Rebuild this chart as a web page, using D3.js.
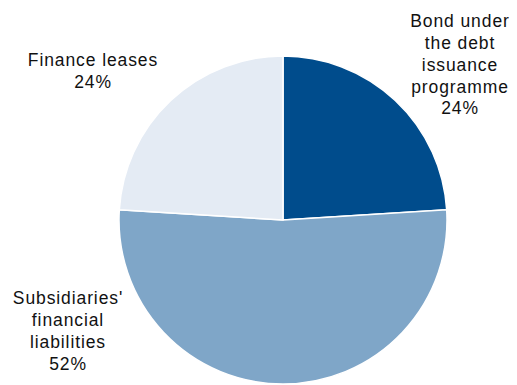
<!DOCTYPE html>
<html>
<head>
<meta charset="utf-8">
<script src="https://cdn.jsdelivr.net/npm/d3@7"></script>
<style>
  body { margin: 0; background: #fff; }
  svg text { font-family: "Liberation Sans", Arial, sans-serif; font-size: 17.5px; letter-spacing: 0.9px; fill: #111; }
</style>
</head>
<body>
<svg id="chart" width="517" height="385"></svg>
<script>
// data
var categories = ["Bond under the debt issuance programme", "Subsidiaries' financial liabilities", "Finance leases"];
var shares = [24, 52, 24];
var labelLines = [
  ["Bond under", "the debt", "issuance", "programme"],
  ["Subsidiaries'", "financial", "liabilities"],
  ["Finance leases"]
];
var colors = ["#004c8c", "#7fa6c8", "#e4ebf4"];

// layout (label anchor = top line centre)
var labelAnchor = [[460, 21], [68, 298], [93, 60]];
var lineH = 21.8;

var svg = d3.select("#chart");
var cx = 283, cy = 220, r = 164;

var pie = d3.pie().sort(null).value(function (d) { return d; });
var arc = d3.arc().innerRadius(0).outerRadius(r);

var g = svg.append("g").attr("transform", "translate(" + cx + "," + cy + ")");

g.selectAll("path")
  .data(pie(shares))
  .enter()
  .append("path")
  .attr("d", arc)
  .attr("fill", function (d, i) { return colors[i]; })
  .attr("stroke", "#fff")
  .attr("stroke-width", 1.5);

var labels = svg.selectAll("text.lbl")
  .data(categories)
  .enter()
  .append("text")
  .attr("class", "lbl")
  .attr("text-anchor", "middle")
  .attr("transform", function (d, i) { return "translate(" + labelAnchor[i][0] + "," + labelAnchor[i][1] + ")"; });

labels.each(function (d, i) {
  var t = d3.select(this);
  var lines = labelLines[i].concat([shares[i] + "%"]);
  lines.forEach(function (s, k) {
    t.append("tspan")
      .attr("x", 0)
      .attr("y", k * lineH)
      .attr("dy", "0.35em")
      .text(s);
  });
});
</script>
</body>
</html>
